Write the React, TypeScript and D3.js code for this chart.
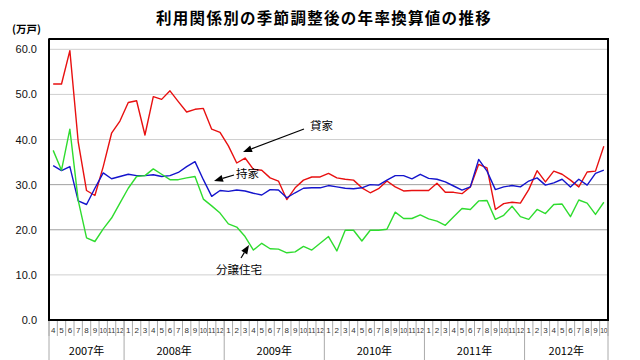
import React from "react";
import * as d3 from "d3";

const yearSpans = [
  { year: 2007, from: 4, to: 12 },
  { year: 2008, from: 1, to: 12 },
  { year: 2009, from: 1, to: 12 },
  { year: 2010, from: 1, to: 12 },
  { year: 2011, from: 1, to: 12 },
  { year: 2012, from: 1, to: 10 },
];

const rental = [
  52.3, 52.3, 59.7, 39.5, 28.7, 27.6, 34.0, 41.4, 44.1, 48.2,
  48.6, 41.0, 49.5, 48.9, 50.8, 48.4, 46.1, 46.7, 46.9, 42.3,
  41.6, 38.6, 34.8, 35.9, 33.4, 33.2, 31.5, 30.8, 26.7, 29.3,
  31.0, 31.7, 31.7, 32.5, 31.5, 31.2, 31.0, 29.3, 28.2, 29.1,
  30.8, 29.5, 28.6, 28.7, 28.7, 28.7, 30.3, 28.3, 28.3, 28.0,
  29.5, 34.5, 33.7, 24.5, 25.8, 26.1, 25.9, 28.9, 33.1, 30.6,
  33.0, 32.3, 31.0, 29.5, 32.8, 33.0, 38.5,
];

const owner = [
  34.2, 33.1, 34.0, 26.4, 25.6, 29.2, 32.6, 31.3, 31.8, 32.3,
  32.0, 32.0, 32.2, 31.8, 32.0, 32.7, 34.0, 35.1, 31.1, 27.4,
  28.7, 28.5, 28.8, 28.6, 28.1, 27.7, 28.9, 28.8, 27.1, 28.2,
  29.2, 29.3, 29.3, 29.8, 29.5, 29.2, 29.1, 29.3, 30.0, 29.9,
  31.0, 32.0, 32.0, 31.3, 32.3, 31.4, 31.2, 30.6, 29.7, 28.8,
  29.5, 35.6, 33.0, 28.9, 29.5, 29.8, 29.5, 30.8, 31.5, 29.9,
  30.4, 31.2, 29.5, 31.2, 29.9, 32.5, 33.2,
];

const forSale = [
  37.6, 33.2, 42.3, 26.5, 18.2, 17.4, 20.2, 22.6, 25.9, 29.2,
  31.8, 32.0, 33.5, 32.3, 31.1, 31.1, 31.5, 31.8, 26.8, 25.3,
  23.7, 21.3, 20.6, 18.5, 15.5, 17.0, 15.8, 15.7, 14.9, 15.1,
  16.3, 15.5, 17.0, 18.5, 15.3, 19.9, 19.9, 17.5, 19.9, 19.9,
  20.1, 23.9, 22.5, 22.5, 23.3, 22.4, 21.9, 21.0, 22.9, 24.7,
  24.5, 26.4, 26.5, 22.3, 23.2, 25.2, 22.9, 22.3, 24.5, 23.6,
  25.6, 25.7, 22.9, 26.6, 25.9, 23.4, 26.1,
];

const yTicks = [0, 10, 20, 30, 40, 50, 60];
const title = "利用関係別の季節調整後の年率換算値の推移";
const unitLabel = "(万戸)";

const months: { year: number; month: number }[] = [];
yearSpans.forEach((s) => {
  for (let m = s.from; m <= s.to; m++) months.push({ year: s.year, month: m });
});

const series = [
  { name: "貸家", values: rental, color: "#e81010" },
  { name: "持家", values: owner, color: "#1414cc" },
  { name: "分譲住宅", values: forSale, color: "#2fdc2f" },
];

const L = 49, R = 608, T = 39, B = 320;

function Arrow({ x1, y1, x2, y2 }: { x1: number; y1: number; x2: number; y2: number }) {
  const a = Math.atan2(y2 - y1, x2 - x1);
  const len = 9, w = 3.5;
  const bx = x2 - len * Math.cos(a), by = y2 - len * Math.sin(a);
  const px = -Math.sin(a) * w, py = Math.cos(a) * w;
  return (
    <g>
      <line x1={x1} y1={y1} x2={bx} y2={by} stroke="#000" strokeWidth={1.2} />
      <polygon points={`${x2},${y2} ${bx + px},${by + py} ${bx - px},${by - py}`} fill="#000" />
    </g>
  );
}

export default function App() {
  const x = d3.scaleBand<number>().domain(months.map((_, i) => i)).range([L, R]).padding(0);
  const y = d3.scaleLinear().domain([0, 60]).range([B, 49.3]);
  const bw = x.bandwidth();
  const cx = (i: number) => (x(i) as number) + bw / 2;
  const line = d3.line<number>().x((_, i) => cx(i)).y((v) => y(v));

  // year spans
  let idx = 0;
  const yearBlocks = yearSpans.map((s) => {
    const n = s.to - s.from + 1;
    const start = idx;
    idx += n;
    return { year: s.year, x0: x(start) as number, x1: (x(start + n - 1) as number) + bw };
  });

  const cjk = "'Noto Sans CJK JP', 'Noto Sans', sans-serif";
  const sans = "'Liberation Sans', Arial, sans-serif";

  return (
    <svg width={640} height={360} style={{ position: "absolute", left: 0, top: 0, background: "#fff" }}>
      <text x={324} y={24} textAnchor="middle" fontFamily={cjk} fontWeight="bold" fontSize={15.5} letterSpacing={1.3} fill="#000">
        {title}
      </text>
      <text x={12} y={33} fontFamily={cjk} fontWeight="bold" fontSize={10.5} fill="#000">{unitLabel}</text>

      {yTicks.map((t) => (
        <g key={t}>
          {t > 0 && (
            <line x1={L} x2={R} y1={y(t)} y2={y(t)} stroke={t === 20 || t === 30 ? "#a0a0a0" : "#cfcfcf"} strokeWidth={1} />
          )}
          <text x={37} y={y(t) + 4} textAnchor="end" fontFamily={sans} fontSize={11} fill="#111">
            {t.toFixed(1)}
          </text>
        </g>
      ))}

      {series.map((s) => (
        <path key={s.name} d={line(s.values) || ""} fill="none" stroke={s.color} strokeWidth={1.4} strokeLinejoin="round" />
      ))}

      {/* frame */}
      <rect x={L} y={T} width={R - L} height={B - T} fill="none" stroke="#000" strokeWidth={1} />
      <line x1={L - 0.5} x2={R + 1} y1={T} y2={T} stroke="#000" strokeWidth={2} />
      <line x1={R} x2={R} y1={T} y2={B} stroke="#000" strokeWidth={2} />
      <line x1={L} x2={L} y1={T} y2={B + 1} stroke="#000" strokeWidth={2} />
      <line x1={L} x2={R + 1} y1={B} y2={B} stroke="#000" strokeWidth={2} />

      {/* month ticks and labels */}
      {months.map((m, i) => {
        const lbl = String(m.month);
        return (
          <g key={i}>
            <line x1={x(i) as number} x2={x(i) as number} y1={B + 1} y2={B + 16} stroke="#aaa" strokeWidth={1} />
            <text
              x={cx(i)}
              y={B + 13}
              textAnchor="middle"
              fontFamily={sans}
              fontSize={8}
              fill="#333"
              {...(lbl.length > 1 ? { textLength: 7.4, lengthAdjust: "spacingAndGlyphs" } : {})}
            >
              {lbl}
            </text>
          </g>
        );
      })}
      <line x1={R} x2={R} y1={B + 1} y2={B + 16} stroke="#aaa" strokeWidth={1} />

      {yearBlocks.map((b, i) => (
        <g key={b.year}>
          <line x1={b.x0} x2={b.x0} y1={B + 1} y2={360} stroke="#aaa" strokeWidth={1} />
          {i === yearBlocks.length - 1 && <line x1={b.x1} x2={b.x1} y1={B + 1} y2={360} stroke="#aaa" strokeWidth={1} />}
          <text x={(b.x0 + b.x1) / 2} y={355} textAnchor="middle" fontFamily={cjk} fontSize={11} fill="#000">
            {b.year}年
          </text>
        </g>
      ))}

      {/* annotations */}
      <text x={310} y={130} fontFamily={cjk} fontSize={11.5} fill="#000">貸家</text>
      <Arrow x1={304} y1={129} x2={243} y2={152} />
      <text x={236} y={178} fontFamily={cjk} fontSize={11.5} fill="#000">持家</text>
      <Arrow x1={234} y1={175} x2={214} y2={181} />
      <text x={216} y={274} fontFamily={cjk} fontSize={11.5} fill="#000">分譲住宅</text>
      <Arrow x1={241} y1={258} x2={249} y2={245} />
    </svg>
  );
}
